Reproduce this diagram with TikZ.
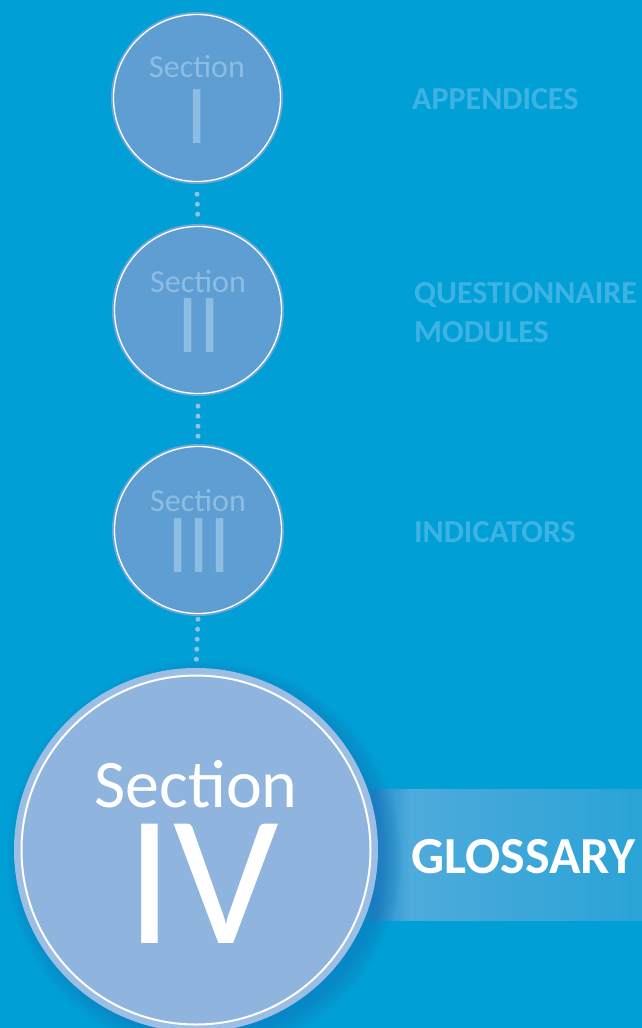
\documentclass[tikz,border=0pt]{standalone}
\usepackage{fontspec}
\setmainfont{Carlito}
\definecolor{bgc}{HTML}{00A0D6}
\definecolor{ringS}{HTML}{6AA5D8}
\definecolor{fillS}{HTML}{5F9ED2}
\definecolor{txtS}{HTML}{8CBDE3}
\definecolor{ringB}{HTML}{9CBEE4}
\definecolor{fillB}{HTML}{8FB4DD}
\definecolor{lbl}{HTML}{3EB3E3}
\definecolor{dotc}{HTML}{90C2E8}
\definecolor{bandL}{HTML}{4EABDB}
\definecolor{bandR}{HTML}{2AA3D7}
\definecolor{bandD}{HTML}{1C88C9}
\definecolor{haloc}{HTML}{1A6FB8}
\tikzset{
  smallring/.style={circle, minimum size=172pt, inner sep=0pt, fill=ringS},
  bigring/.style={circle, minimum size=364pt, inner sep=0pt, fill=ringB},
  secS/.style={text=txtS, font=\fontsize{32}{32}\selectfont, anchor=base, inner sep=0pt},
  numS/.style={text=txtS, font=\fontsize{84}{84}\selectfont, anchor=base, inner sep=0pt},
  lblstyle/.style={text=lbl, font=\bfseries\fontsize{32}{39}\selectfont, anchor=base west, inner sep=0pt, align=left},
  dotline/.style={dotc, line width=5pt, line cap=round, dash pattern=on 0pt off 10pt},
  shadowdisc/.style={fill=haloc, opacity=0.05}
}
\begin{document}
\begin{tikzpicture}[x=1pt,y=-1pt]
\useasboundingbox (0,0) rectangle (642,1028);
\fill[bgc] (0,0) rectangle (642,1028);
% band
\shade[left color=bandD, right color=bandL] (370,789) rectangle (410,920);
\shade[left color=bandL, right color=bandR] (410,789) rectangle (642,920);
% soft shadow behind big circle (stacked translucent discs)
\foreach \r in {180,182,...,198} {
  \fill[shadowdisc] (204,858) circle (\r pt);
}
% circles
\node (c1) [smallring] at (197,98) {};
\draw[white, line width=1.3pt, fill=fillS] (c1.center) circle (83.5pt);
\node (c2) [smallring] at (198,310) {};
\draw[white, line width=1.3pt, fill=fillS] (c2.center) circle (83.5pt);
\node (c3) [smallring] at (198,530) {};
\draw[white, line width=1.3pt, fill=fillS] (c3.center) circle (83.5pt);
\node (c4) [bigring] at (196,850) {};
\draw[white, line width=2pt, fill=fillB] (c4.center) circle (174.5pt);
% dotted connectors
\draw[dotline] ([yshift=-10pt]c1.south) -- (c2.north);
\draw[dotline] ([yshift=-10pt]c2.south) -- (c3.north);
\draw[dotline] ([yshift=-3pt]c3.south) -- (c4.north);
% texts in circles
\node (s1) [secS] at (197,77) {Section};
\node (n1) [numS] at (197,143) {I};
\node (s2) [secS] at (198,292) {Section};
\node (n2) [numS] at (199,352) {II};
\node (s3) [secS] at (198,511) {Section};
\node (n3) [numS] at (199,572) {III};
\node (s4) [text=white, font=\fontsize{68}{68}\selectfont, anchor=base, inner sep=0pt] at (196,807) {Section};
\node (n4) [text=white, font=\fontsize{186}{186}\selectfont, anchor=base, inner sep=0pt] at (203,943) {IV};
% labels
\node (l1) [lblstyle] at (412,109) {APPENDICES};
\node (l2) [lblstyle] at (414,342) {QUESTIONNAIRE\\MODULES};
\node (l3) [lblstyle] at (414,542) {INDICATORS};
\node (l4) [text=white, font=\bfseries\fontsize{52}{52}\selectfont, anchor=base west, inner sep=0pt] at (411,873) {GLOSSARY};
\end{tikzpicture}
\end{document}
